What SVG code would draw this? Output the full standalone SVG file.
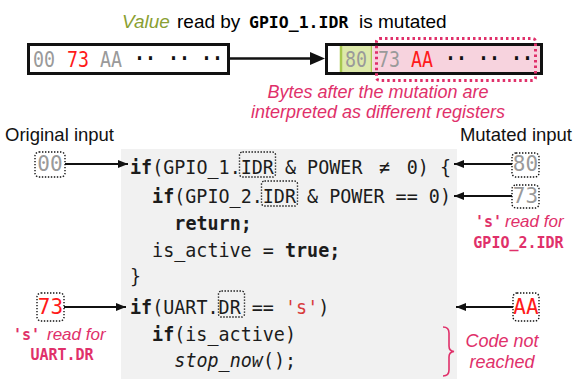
<svg xmlns="http://www.w3.org/2000/svg" width="575" height="379" viewBox="0 0 575 379">
  <defs>
    <style>
      .sans { font-family: "Liberation Sans", Arial, sans-serif; }
      .mono { font-family: "DejaVu Sans Mono", "Liberation Mono", monospace; }
      .code { font-family: "DejaVu Sans Mono", "Liberation Mono", monospace; font-size: 20px; fill: #1c1c1c; }
      .b { font-weight: bold; }
      .i { font-style: italic; }
      .pink { fill: #e0306a; }
      .gray { fill: #9a9a9a; }
      .red { fill: #ff1a1a; }
      .byte { font-family: "DejaVu Sans Mono", "Liberation Mono", monospace; font-size: 21px; }
      .dots { font-family: "DejaVu Sans Mono", monospace; font-size: 21px; font-weight: bold; fill: #111; }
      .frame { fill: #fff; stroke: #111; stroke-width: 3; }
      .dotbox { fill: none; stroke: #111; stroke-width: 1.4; stroke-dasharray: 1.4 1.6; }
      .wire { stroke: #111; stroke-width: 1.8; fill: none; }
    </style>
    <marker id="head" viewBox="0 0 10 8" refX="10" refY="4" markerWidth="10" markerHeight="8" markerUnits="userSpaceOnUse" orient="auto">
      <path d="M0,0 L10,4 L0,8 z" fill="#111"/>
    </marker>
  </defs>

  <!-- title -->
  <g id="title" class="sans" font-size="19">
    <text x="122" y="28"><tspan class="i" fill="#8aa032">Value</tspan></text>
    <text x="177" y="28">read by</text>
    <text x="249" y="28" class="mono b" font-size="16.5">GPIO_1.IDR</text>
    <text x="359" y="28">is mutated</text>
  </g>

  <!-- original byte stream -->
  <g id="original-bytes">
    <rect class="frame" x="28.5" y="44.5" width="200" height="29"/>
    <g transform="scale(0.87 1)">
      <text class="byte gray" x="37.9" y="67">00</text>
      <text class="byte red" x="77" y="67">73</text>
      <text class="byte gray" x="114.9" y="67">AA</text>
      <text class="dots" x="154" y="66">··</text>
      <text class="dots" x="193.1" y="66">··</text>
      <text class="dots" x="231" y="66">··</text>
    </g>
  </g>

  <!-- mutated byte stream -->
  <g id="mutated-bytes">
    <rect class="frame" x="326.5" y="44.5" width="215" height="29"/>
    <rect x="340" y="46" width="32" height="26" fill="#dde9ab"/>
    <line x1="341" y1="46" x2="341" y2="72" stroke="#a8c84e" stroke-width="2.5"/>
    <line x1="371.5" y1="46" x2="371.5" y2="72" stroke="#a8c84e" stroke-width="1.5"/>
    <rect x="372.5" y="46" width="167.5" height="26" fill="#f7d3de"/>
    <g transform="scale(0.87 1)">
      <text class="byte gray" x="396.6" y="67">80</text>
      <text class="byte gray" x="434.5" y="67">73</text>
      <text class="byte red" x="472.4" y="67">AA</text>
      <text class="dots" x="511.5" y="66">··</text>
      <text class="dots" x="549.4" y="66">··</text>
      <text class="dots" x="587.4" y="66">··</text>
    </g>
    <rect x="376.5" y="38.5" width="159" height="42" rx="3" fill="none" stroke="#e0306a" stroke-width="3" stroke-dasharray="2.5 3"/>
  </g>

  <g id="mutation-note" class="sans i pink" font-size="18" text-anchor="middle">
    <text x="378" y="98">Bytes after the mutation are</text>
    <text x="378" y="118">interpreted as different registers</text>
  </g>

  <g id="input-labels" class="sans" font-size="18.5" fill="#111">
    <text x="5" y="141">Original input</text>
    <text x="572" y="141" text-anchor="end">Mutated input</text>
  </g>

  <!-- firmware code listing (narrow monospace: glyphs squeezed horizontally) -->
  <g id="code">
    <rect x="121" y="149" width="336" height="230" fill="#f1f1f1"/>
    <g transform="scale(0.92 1)">
      <text class="code" x="141.3" y="174" xml:space="preserve"><tspan class="b">if</tspan>(GPIO_1.IDR &amp; POWER <tspan dx="6">≠</tspan><tspan dx="6"> 0) {</tspan></text>
      <text class="code" x="165.3" y="203" xml:space="preserve"><tspan class="b">if</tspan>(GPIO_2.IDR &amp; POWER == 0)</text>
      <text class="code b" x="189.5" y="230">return;</text>
      <text class="code" x="165.3" y="257" xml:space="preserve">is_active = <tspan class="b">true;</tspan></text>
      <text class="code" x="141.3" y="283">}</text>
      <text class="code" x="141.3" y="314" xml:space="preserve"><tspan class="b">if</tspan>(UART.DR == <tspan fill="#d83c3c">'s'</tspan>)</text>
      <text class="code" x="165.3" y="341" xml:space="preserve"><tspan class="b">if</tspan>(is_active)</text>
      <text class="code" x="189.5" y="367" xml:space="preserve"><tspan class="i">stop_now</tspan>();</text>
    </g>
    <rect class="dotbox" x="239.5" y="152" width="36" height="25" rx="3"/>
    <rect class="dotbox" x="261.5" y="181" width="36" height="25" rx="3"/>
    <rect class="dotbox" x="218.5" y="291" width="26" height="26" rx="3"/>
  </g>

  <!-- input bytes fed to each register read -->
  <g id="in-orig-00">
    <rect class="dotbox" x="35" y="152" width="30" height="25" rx="4"/>
    <text class="byte gray" x="50" y="171" text-anchor="middle" font-size="18">00</text>
  </g>
  <g id="in-mut-80">
    <rect class="dotbox" x="512" y="153" width="27" height="24" rx="4"/>
    <text class="byte gray" x="525.5" y="171" text-anchor="middle" font-size="18">80</text>
  </g>
  <g id="in-mut-73">
    <rect class="dotbox" x="512" y="185" width="27" height="23" rx="4"/>
    <text class="byte gray" x="525.5" y="203" text-anchor="middle" font-size="18">73</text>
  </g>
  <g id="in-orig-73">
    <rect class="dotbox" x="37" y="293" width="27" height="28" rx="4"/>
    <text class="byte red" x="50.5" y="314" text-anchor="middle" font-size="19">73</text>
  </g>
  <g id="in-mut-AA">
    <rect class="dotbox" x="513" y="293" width="26" height="28" rx="4"/>
    <text class="byte red" x="526" y="314" text-anchor="middle" font-size="19">AA</text>
  </g>

  <g id="note-gpio2" class="pink">
    <text y="227"><tspan class="mono b" x="475" font-size="15">'s'</tspan><tspan class="sans i" x="505" font-size="17">read for</tspan></text>
    <text class="mono b" x="518.5" y="248" font-size="15" text-anchor="middle">GPIO_2.IDR</text>
  </g>
  <g id="note-uart" class="pink">
    <text y="340"><tspan class="mono b" x="13" font-size="15">'s'</tspan><tspan class="sans i" x="47" font-size="17">read for</tspan></text>
    <text class="mono b" x="62" y="360" font-size="15" text-anchor="middle">UART.DR</text>
  </g>

  <g id="unreached">
    <path d="M443,327 Q449,327 449,333 L449,346 Q449,351 454,351.5 Q449,352 449,357 L449,370 Q449,376 443,376" fill="none" stroke="#e0306a" stroke-width="1.6"/>
    <g class="sans i pink" font-size="18" text-anchor="middle">
      <text x="502" y="347">Code not</text>
      <text x="502" y="368">reached</text>
    </g>
  </g>

  <!-- connectors -->
  <g id="connectors">
    <line x1="230" y1="58.5" x2="311" y2="58.5" stroke="#111" stroke-width="2.5"/>
    <path d="M310,52 L325,58.5 L310,65 z" fill="#111"/>
    <line class="wire" x1="65" y1="164" x2="128" y2="164" marker-end="url(#head)"/>
    <line class="wire" x1="512" y1="164" x2="454" y2="164" marker-end="url(#head)"/>
    <line class="wire" x1="512" y1="196" x2="454" y2="196" marker-end="url(#head)"/>
    <line class="wire" x1="64" y1="307" x2="126" y2="307" marker-end="url(#head)"/>
    <line class="wire" x1="513" y1="307" x2="456" y2="307" marker-end="url(#head)"/>
  </g>
</svg>
